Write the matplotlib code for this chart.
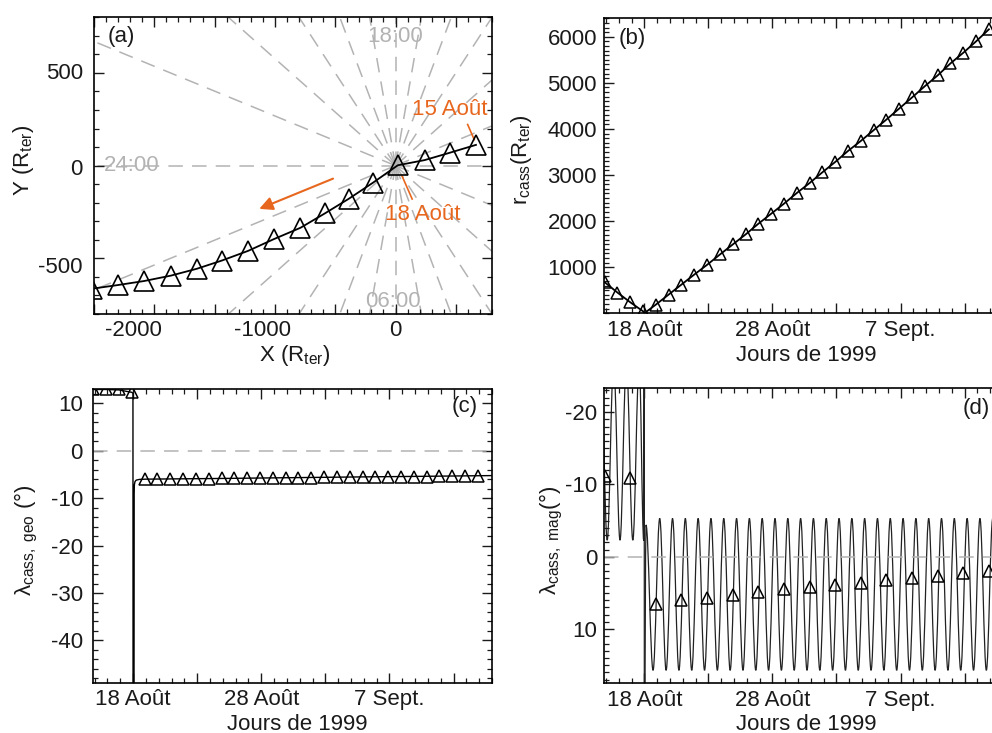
import numpy as np
import matplotlib
matplotlib.use("Agg")
import matplotlib.pyplot as plt
from matplotlib.path import Path
from matplotlib.patches import PathPatch
from matplotlib.transforms import ScaledTranslation
from matplotlib.ticker import MultipleLocator, FixedLocator, FixedFormatter

# ── Data ──────────────────────────────────────────────────────────────
# (a) trajectory in the ecliptic plane, one triangle per day (15 Aug -> 30 Aug)
TRAJ_X = [667, 452, 242, 19, -187, -386, -587, -788, -1008, -1220,
          -1441, -1647, -1862, -2083, -2303, -2520]
TRAJ_Y = [112, 70, 30, 2, -92, -178, -258, -335, -396, -459,
          -512, -556, -593, -622, -644, -664]
HOUR_ANGLES = [0, 15, 30, 45, 60, 75, 90, 105, 120, 135, 150, 165,
               180, 195, 210, 225, 240, 255, 270, 285, 300, 315, 330, 345]
HOUR_LABELS = ["18:00", "24:00", "06:00"]
HOUR_LABEL_X = [0, -2190, -20]
HOUR_LABEL_Y = [695, 0, -730]

# daily sample times (day of August 1999; 32 = 1 Sept)
TRI_DAYS = [14.9, 15.9, 16.9, 17.9, 18.9, 19.9, 20.9, 21.9, 22.9, 23.9,
            24.9, 25.9, 26.9, 27.9, 28.9, 29.9, 30.9, 31.9, 32.9, 33.9,
            34.9, 35.9, 36.9, 37.9, 38.9, 39.9, 40.9, 41.9, 42.9, 43.9, 44.9]

# (b) distance to Earth
R_TRI = [675, 450, 239, 43, 189, 407, 624, 841, 1052, 1276,
         1493, 1710, 1943, 2160, 2378, 2609, 2826, 3059, 3283, 3522,
         3739, 3972, 4204, 4443, 4683, 4928, 5161, 5422, 5652, 5900, 6161]
R_CA_DAY = 18.0
R_CA = 1.2

# (c) geographic latitude
GEO_LINE_DAYS = [14.6, 15.9, 16.9, 17.9, 17.99, 18.0, 18.07, 18.085, 18.1,
                 18.15, 18.25, 18.5, 19.0, 25.0, 30.0, 35.0, 40.0, 46.0]
GEO_LINE_VALS = [12.9, 12.9, 12.8, 12.3, 12.1, -60.0, -60.0, -9.0, -7.2,
                 -6.5, -6.2, -6.05, -6.0, -5.85, -5.7, -5.55, -5.42, -5.25]
GEO_TRI = [13.0, 13.0, 12.9, 12.3, -6.0, -6.0, -6.0, -5.95, -5.9, -5.9,
           -5.85, -5.85, -5.8, -5.8, -5.75, -5.75, -5.7, -5.7, -5.65, -5.65,
           -5.6, -5.6, -5.55, -5.5, -5.5, -5.45, -5.45, -5.4, -5.4, -5.35, -5.3]

# (d) magnetic latitude: extrema of the daily oscillation
MAG_PRE_DAYS = [14.6, 15.1, 15.6, 16.1, 16.6, 17.1, 17.6, 17.95]
MAG_PRE_VALS = [-27.0, -2.3, -27.0, -2.3, -27.0, -2.3, -27.0, -2.3]
MAG_JUMP_DAYS = [17.95, 17.99, 18.0]
MAG_JUMP_VALS = [-2.3, -30.0, 30.0]
MAG_PEAK_DAYS = [18.13, 19.2, 20.2, 21.2, 22.2, 23.2, 24.2, 25.2, 26.2, 27.2,
                 28.2, 29.2, 30.2, 31.2, 32.2, 33.2, 34.2, 35.2, 36.2, 37.2,
                 38.2, 39.2, 40.2, 41.2, 42.2, 43.2, 44.2, 45.2, 46.2]
MAG_PEAK_VALS = [-4.4, -5.3, -5.3, -5.3, -5.3, -5.3, -5.3, -5.3, -5.3, -5.3,
                 -5.3, -5.3, -5.3, -5.3, -5.3, -5.3, -5.3, -5.3, -5.3, -5.3,
                 -5.3, -5.3, -5.3, -5.3, -5.3, -5.3, -5.3, -5.3, -5.3]
MAG_TROUGH_DAYS = [18.68, 19.7, 20.7, 21.7, 22.7, 23.7, 24.7, 25.7, 26.7, 27.7,
                   28.7, 29.7, 30.7, 31.7, 32.7, 33.7, 34.7, 35.7, 36.7, 37.7,
                   38.7, 39.7, 40.7, 41.7, 42.7, 43.7, 44.7, 45.7]
MAG_TROUGH_VALS = [15.7, 15.7, 15.7, 15.7, 15.7, 15.7, 15.7, 15.7, 15.7, 15.7,
                   15.7, 15.7, 15.7, 15.7, 15.7, 15.7, 15.7, 15.7, 15.7, 15.7,
                   15.7, 15.7, 15.7, 15.7, 15.7, 15.7, 15.7, 15.7]
MAG_TRI_DAYS = [14.9, 16.9, 18.9, 20.9, 22.9, 24.9, 26.9, 28.9,
                30.9, 32.9, 34.9, 36.9, 38.9, 40.9, 42.9, 44.9]
MAG_TRI = [-11.2, -10.9, 6.5, 6.0, 5.7, 5.3, 4.9, 4.5,
           4.2, 3.9, 3.6, 3.2, 2.9, 2.6, 2.3, 1.9]

DATE_TICKS = [18, 23, 28, 33, 38, 43]
DATE_LABELS = ["18 Août", "", "28 Août", "", "7 Sept.", ""]

# ── Style ─────────────────────────────────────────────────────────────
ORANGE = "#E8671E"
GRID_GRAY = "#b3b3b3"
FS = 16
W, H = 992, 733

plt.rcParams["font.family"] = ["Liberation Sans", "DejaVu Sans"]
plt.rcParams["mathtext.fontset"] = "custom"
plt.rcParams["mathtext.rm"] = "Liberation Sans"
plt.rcParams["mathtext.it"] = "Liberation Sans:italic"
plt.rcParams["axes.unicode_minus"] = False
plt.rcParams["font.size"] = FS
plt.rcParams["axes.linewidth"] = 1.2
plt.rcParams["text.color"] = "#1a1a1a"


def px_axes(fig, left, top, right, bottom):
    return fig.add_axes([left / W, 1 - bottom / H, (right - left) / W, (bottom - top) / H])


def px_text(fig, x, y, s, **kw):
    kw.setdefault("ha", "center")
    kw.setdefault("va", "center")
    kw.setdefault("fontsize", FS)
    fig.text(x / W, 1 - y / H, s, **kw)


def style_ticks(ax, xpad=4.5, ypad=5):
    ax.tick_params(which="both", direction="in", top=True, right=True,
                   labelsize=FS, colors="#1a1a1a")
    ax.tick_params(which="major", length=7, width=1.0)
    ax.tick_params(which="minor", length=3.5, width=0.9)
    ax.tick_params(axis="x", pad=xpad)
    ax.tick_params(axis="y", pad=ypad)


def date_axis(ax):
    ax.set_xlim(14.85, 46.0)
    ax.xaxis.set_major_locator(FixedLocator(DATE_TICKS))
    ax.xaxis.set_major_formatter(FixedFormatter(DATE_LABELS))
    ax.xaxis.set_minor_locator(MultipleLocator(1))


def smooth_curve(days, vals):
    """Path through the extrema with horizontal tangents (cubic Béziers)."""
    verts = [(days[0], vals[0])]
    codes = [Path.MOVETO]
    for i in range(1, len(days)):
        d = days[i] - days[i - 1]
        verts += [(days[i - 1] + 0.364 * d, vals[i - 1]),
                  (days[i] - 0.364 * d, vals[i]),
                  (days[i], vals[i])]
        codes += [Path.CURVE4] * 3
    return Path(verts, codes)


def nudge_labels(fig, ticks, offsets, axis="x"):
    # the original tick labels are not quite centred on their ticks
    for tick, off in zip(ticks, offsets):
        dx, dy = (off, 0) if axis == "x" else (0, -off)
        tr = ScaledTranslation(dx / 100, dy / 100, fig.dpi_scale_trans)
        tick.label1.set_transform(tick.label1.get_transform() + tr)


fig = plt.figure(figsize=(W / 100, H / 100), dpi=100)

# ── (a) trajectory ────────────────────────────────────────────────────
ax = px_axes(fig, 94, 17.3, 492, 314)
for ang in HOUR_ANGLES:
    a = np.deg2rad(ang)
    ax.plot([0, 6000 * np.cos(a)], [0, 6000 * np.sin(a)], color=GRID_GRAY,
            lw=1.1, ls=(0, (9.5, 6)), zorder=1)
for s, x, y in zip(HOUR_LABELS, HOUR_LABEL_X, HOUR_LABEL_Y):
    ax.text(x, y, s, color=GRID_GRAY, fontsize=FS, ha="center", va="center", zorder=2)
ax.plot(TRAJ_X, TRAJ_Y, color="k", lw=1.3, zorder=3)
ax.plot(TRAJ_X, TRAJ_Y, ls="none", marker="^", ms=14.5, mfc="none", mec="k",
        mew=1.2, zorder=4)
ax.annotate("", xy=(-1130, -233), xytext=(-518, -70),
            arrowprops=dict(arrowstyle="-|>", color=ORANGE, lw=1.5,
                            mutation_scale=20, shrinkA=0, shrinkB=0))
ax.text(446, 301, "15 Août", color=ORANGE, fontsize=FS, ha="center", va="center")
ax.text(226, -262, "18 Août", color=ORANGE, fontsize=FS, ha="center", va="center")
ax.plot([598, 653], [222, 140], color=ORANGE, lw=1.2)
ax.plot([55, 138], [-57, -180], color=ORANGE, lw=1.2)
ax.set_xlim(-2500, 800)
ax.set_ylim(-800, 800)
ax.xaxis.set_major_locator(FixedLocator([-2000, -1000, 0, -2500, -1500, -500, 500]))
ax.xaxis.set_major_formatter(FixedFormatter(["-2000", "-1000", "0", "", "", "", ""]))
ax.xaxis.set_minor_locator(MultipleLocator(100))
ax.yaxis.set_major_locator(FixedLocator([500, 0, -500]))
ax.yaxis.set_minor_locator(MultipleLocator(100))
style_ticks(ax, ypad=8)
nudge_labels(fig, ax.xaxis.get_major_ticks()[:3], [-21, -12, 0], "x")
nudge_labels(fig, ax.yaxis.get_major_ticks()[:3], [-2, 1, 7], "y")
px_text(fig, 121.7, 36.7, "(a)")
px_text(fig, 295, 356, r"X (R$_{\mathrm{ter}}$)")
px_text(fig, 23, 160, r"Y (R$_{\mathrm{ter}}$)", rotation=90)

# ── (b) distance ──────────────────────────────────────────────────────
ax = px_axes(fig, 604, 18.3, 1003, 313.3)
line_days = TRI_DAYS[:4] + [R_CA_DAY] + TRI_DAYS[4:]
line_r = R_TRI[:4] + [R_CA] + R_TRI[4:]
ax.plot(line_days, line_r, color="k", lw=1.3)
ax.plot(TRI_DAYS, R_TRI, ls="none", marker="^", ms=8, mfc="none", mec="k", mew=1.1)
date_axis(ax)
ax.set_ylim(0, 6400)
ax.yaxis.set_major_locator(FixedLocator([1000, 2000, 3000, 4000, 5000, 6000]))
ax.yaxis.set_minor_locator(MultipleLocator(100))
style_ticks(ax)
px_text(fig, 632.7, 38.3, "(b)")
px_text(fig, 806, 356, "Jours de 1999")
px_text(fig, 522, 160, r"r$_{\mathrm{cass}}$(R$_{\mathrm{ter}}$)", rotation=90)

# ── (c) geographic latitude ───────────────────────────────────────────
ax = px_axes(fig, 92.7, 389, 492, 682.7)
ax.axhline(0, color=GRID_GRAY, lw=1.1, ls=(0, (9.5, 6)))
ax.plot(GEO_LINE_DAYS, GEO_LINE_VALS, color="k", lw=1.0)
ax.plot(TRI_DAYS, GEO_TRI, ls="none", marker="^", ms=8, mfc="none", mec="k", mew=1.1)
date_axis(ax)
ax.set_ylim(-48.9, 13.0)
ax.yaxis.set_major_locator(FixedLocator([-40, -30, -20, -10, 0, 10]))
ax.yaxis.set_minor_locator(MultipleLocator(2))
style_ticks(ax, ypad=7)
px_text(fig, 465, 406.7, "(c)")
px_text(fig, 297, 724, "Jours de 1999")
px_text(fig, 26, 540, r"λ$_{\mathrm{cass,\ geo}}$ (°)", rotation=90)

# ── (d) magnetic latitude ─────────────────────────────────────────────
ax = px_axes(fig, 604, 388.3, 1003, 683.3)
ax.axhline(0, color=GRID_GRAY, lw=1.1, ls=(0, (9.5, 6)))
ax.add_patch(PathPatch(smooth_curve(MAG_PRE_DAYS, MAG_PRE_VALS), fc="none",
                       ec="#222222", lw=0.9))
ax.plot(MAG_JUMP_DAYS, MAG_JUMP_VALS, color="#222222", lw=0.9)
post = sorted(zip(MAG_PEAK_DAYS + MAG_TROUGH_DAYS, MAG_PEAK_VALS + MAG_TROUGH_VALS))
post_days = [MAG_JUMP_DAYS[-1]] + [p[0] for p in post]
post_vals = [MAG_JUMP_VALS[-1]] + [p[1] for p in post]
ax.add_patch(PathPatch(smooth_curve(post_days, post_vals), fc="none",
                       ec="#222222", lw=0.9))
ax.plot(MAG_TRI_DAYS, MAG_TRI, ls="none", marker="^", ms=8, mfc="none", mec="k", mew=1.1)
date_axis(ax)
ax.set_ylim(17.5, -23.3)
ax.yaxis.set_major_locator(FixedLocator([-20, -10, 0, 10]))
ax.yaxis.set_minor_locator(MultipleLocator(1))
style_ticks(ax)
px_text(fig, 976, 408.3, "(d)")
px_text(fig, 806, 724, "Jours de 1999")
px_text(fig, 551, 540, r"λ$_{\mathrm{cass,\ mag}}$(°)", rotation=90)

fig.savefig("out.png", dpi=100)
